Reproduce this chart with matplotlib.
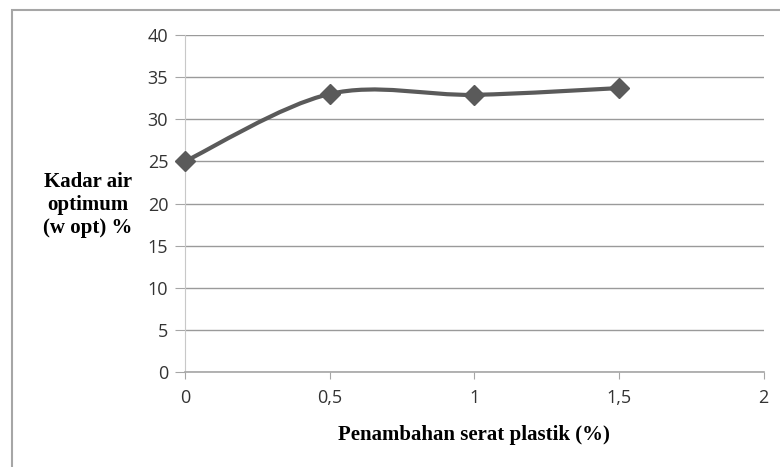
import numpy as np
import matplotlib.pyplot as plt
from matplotlib.path import Path
from matplotlib.patches import PathPatch, Rectangle

# data
serat = [0, 0.5, 1, 1.5]
kadar_air = [25.0, 33.0, 32.9, 33.7]
x_ticks = [0, 0.5, 1, 1.5, 2]
x_ticklabels = ['0', '0,5', '1', '1,5', '2']
y_ticks = [0, 5, 10, 15, 20, 25, 30, 35, 40]

fig = plt.figure(figsize=(7.8, 4.67), dpi=100)
ax = fig.add_axes([0.237, 0.2034, 0.742, 0.7216])

# outer chart frame (cut off at right and bottom like the source)
fig.patches.append(Rectangle((12 / 780, -0.05), 1.2, 1 - 10 / 467 + 0.05,
                             transform=fig.transFigure, fill=False,
                             edgecolor='#a6a6a6', lw=1.5))

# smoothed line like Excel (bezier through the points)
pts = np.column_stack([serat, kadar_air])
verts = [tuple(pts[0])]
codes = [Path.MOVETO]
n = len(pts)
for i in range(n - 1):
    p0 = pts[max(i - 1, 0)]
    p1 = pts[i]
    p2 = pts[i + 1]
    p3 = pts[min(i + 2, n - 1)]
    c1 = p1 + (p2 - p0) / 6
    c2 = p2 - (p3 - p1) / 6
    verts += [tuple(c1), tuple(c2), tuple(p2)]
    codes += [Path.CURVE4] * 3
ax.add_patch(PathPatch(Path(verts, codes), fill=False, edgecolor='#5a5a5a',
                       lw=3, zorder=3))
ax.plot(serat, kadar_air, linestyle='none', marker='D', markersize=10,
        color='#5a5a5a', zorder=4, clip_on=False)

ax.set_xlim(0, 2)
ax.set_ylim(0, 40)
ax.set_xticks(x_ticks)
ax.set_xticklabels(x_ticklabels)
ax.set_yticks(y_ticks)
ax.yaxis.grid(True, color='#9a9a9a', lw=1)
ax.set_axisbelow(True)

for s in ['top', 'right']:
    ax.spines[s].set_visible(False)
ax.spines['left'].set_color('#c8c8c8')
ax.spines['bottom'].set_color('#a6a6a6')
ax.spines['bottom'].set_linewidth(1.2)
ax.tick_params(axis='x', direction='out', length=5, color='#a6a6a6',
               labelsize=13, labelcolor='#333333', pad=7)
ax.tick_params(axis='y', direction='out', length=7, color='#a6a6a6',
               labelsize=13, labelcolor='#333333', pad=5)
for lab in ax.get_xticklabels() + ax.get_yticklabels():
    lab.set_fontfamily('Open Sans')

fig.text(474 / 780, 1 - 435 / 467, 'Penambahan serat plastik (%)',
         ha='center', va='center', fontsize=15, fontweight='bold',
         family='Liberation Serif')
fig.text(88 / 780, 1 - 205 / 467, 'Kadar air\noptimum\n(w opt) %',
         ha='center', va='center', fontsize=15, fontweight='bold',
         family='Liberation Serif', linespacing=1.2)

fig.savefig('out.png', dpi=100)
